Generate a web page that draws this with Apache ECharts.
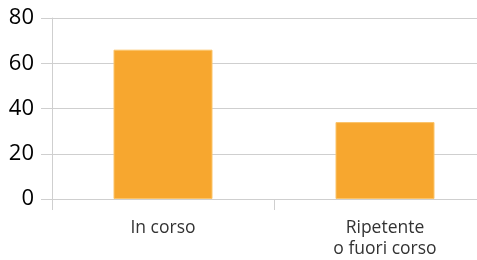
<!DOCTYPE html>
<html>
<head>
<meta charset="utf-8">
<script src="https://cdn.jsdelivr.net/npm/echarts@6/dist/echarts.min.js"></script>
<style>
  html, body { margin: 0; padding: 0; background: #fff; overflow: hidden; }
  /* wider than the window: the second category runs past the right edge */
  #main { width: 496px; height: 260px; }
</style>
</head>
<body>
<div id="main"></div>
<script>
const categories = ['In corso', 'Ripetente\no fuori corso'];
const values = [66, 34];
const yTicks = [0, 20, 40, 60, 80];

const chart = echarts.init(document.getElementById('main'));
const lineColor = '#cfcfcf';

chart.setOption({
  animation: false,
  textStyle: { fontFamily: 'Open Sans' },
  grid: { left: 52, top: 18, right: 0, bottom: 61, containLabel: false },
  xAxis: {
    type: 'category',
    data: categories,
    axisLine: { lineStyle: { color: lineColor } },
    axisTick: { show: true, length: 11, lineStyle: { color: lineColor } },
    axisLabel: { color: '#333', fontSize: 17.5, lineHeight: 21, margin: 19 }
  },
  yAxis: {
    type: 'value',
    min: yTicks[0],
    max: yTicks[yTicks.length - 1],
    interval: 20,
    axisLine: { show: true, lineStyle: { color: lineColor } },
    axisTick: { show: true, length: 11, lineStyle: { color: lineColor } },
    splitLine: { lineStyle: { color: lineColor } },
    axisLabel: { color: '#000', fontSize: 22, margin: 18 }
  },
  series: [{
    type: 'bar',
    data: values,
    barWidth: 99,
    itemStyle: { color: '#f7a72f', borderColor: '#fbc46a', borderWidth: 1 }
  }]
});
</script>
</body>
</html>
